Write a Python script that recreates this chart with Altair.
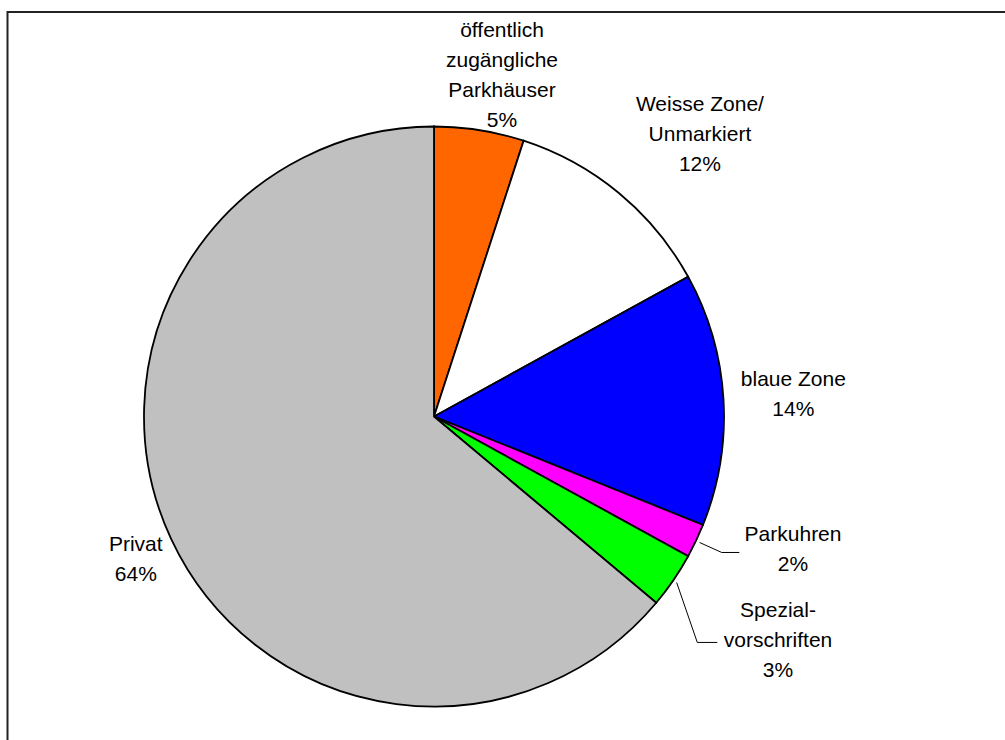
import math
import altair as alt
import pandas as pd

# ---- data ----
categories = [
    "öffentlich zugängliche Parkhäuser",
    "Weisse Zone/ Unmarkiert",
    "blaue Zone",
    "Parkuhren",
    "Spezialvorschriften",
    "Privat",
]
label_names = [
    "öffentlich\nzugängliche\nParkhäuser",
    "Weisse Zone/\nUnmarkiert",
    "blaue Zone",
    "Parkuhren",
    "Spezial-\nvorschriften",
    "Privat",
]
shares = [5.0, 12.0, 14.1, 1.9, 3.1, 63.9]
pct_labels = ["5%", "12%", "14%", "2%", "3%", "64%"]
colors = ["#FF6600", "#FFFFFF", "#0000FF", "#FF00FF", "#00FF00", "#C0C0C0"]

# ---- layout (not data) ----
CX, CY, R = 434.0, 416.5, 290.0
label_radius = [347, 387, 360, 383, 411, 331]
label_nudge_deg = [2.3, 3.8, 0.0, -5.0, -1.2, -0.7]
FONT = "Liberation Sans"
FS = 21
LH = 30

df = pd.DataFrame({
    "idx": list(range(len(categories))),
    "cat": categories,
    "share": shares,
    "label": [f"{n}\n{p}" for n, p in zip(label_names, pct_labels)],
})

total = sum(shares)
cum = 0.0
mids = []
for s in shares:
    mids.append((cum + s / 2) / total * 360.0)
    cum += s
lx, ly, ly_first = [], [], []
for m, r, nd, lab in zip(mids, label_radius, label_nudge_deg, df["label"]):
    a = math.radians(m + nd)
    x = CX + r * math.sin(a)
    y = CY - r * math.cos(a)
    n = lab.count("\n") + 1
    lx.append(x)
    ly.append(y)
    ly_first.append(y - (n - 1) * LH / 2.0)
df["lx"] = lx
df["ly"] = ly_first

# leader lines for the two small slices
leader_rows = []
leader_spec = {3: (-53.7, 2.6, 17.6), 4: (-60.7, 1.0, 20.0)}
for i, (ox, oy, elbow) in leader_spec.items():
    a = math.radians(mids[i])
    sx, sy = CX + 294 * math.sin(a), CY - 294 * math.cos(a)
    ex, ey = lx[i] + ox, ly[i] + oy
    pts = [(sx, sy), (ex - elbow, ey), (ex, ey)]
    for k, (px, py) in enumerate(pts):
        leader_rows.append({"cat": categories[i], "seq": k, "px": px, "py": py})
lead_df = pd.DataFrame(leader_rows)

border = alt.Chart(pd.DataFrame({"a": [0]})).mark_rect(
    fill=None, fillOpacity=0, stroke="#222222", strokeWidth=2
).encode(
    x=alt.value(7.5), x2=alt.value(1200), y=alt.value(12), y2=alt.value(1000)
)

pie = alt.Chart(df).mark_arc(
    outerRadius=R, stroke="black", strokeWidth=1.8
).encode(
    theta=alt.Theta("share:Q", stack=True),
    color=alt.Color("cat:N", scale=alt.Scale(domain=categories, range=colors), legend=None),
    order=alt.Order("idx:Q"),
    x=alt.value(CX),
    y=alt.value(CY),
)

labels = alt.Chart(df).mark_text(
    font=FONT, fontSize=FS, lineHeight=LH, lineBreak="\n",
    align="center", baseline="middle", color="black"
).encode(
    x=alt.X("lx:Q", scale=None, axis=None),
    y=alt.Y("ly:Q", scale=None, axis=None),
    text="label:N",
)

leaders = alt.Chart(lead_df).mark_line(color="black", strokeWidth=1).encode(
    x=alt.X("px:Q", scale=None, axis=None),
    y=alt.Y("py:Q", scale=None, axis=None),
    detail="cat:N",
    order="seq:Q",
)

chart = alt.layer(border, pie, leaders, labels).properties(
    width=1005, height=740, autosize="none", padding=0
).configure_view(stroke=None)

chart.save("out.html", embed_options={"renderer": "svg", "actions": False})
